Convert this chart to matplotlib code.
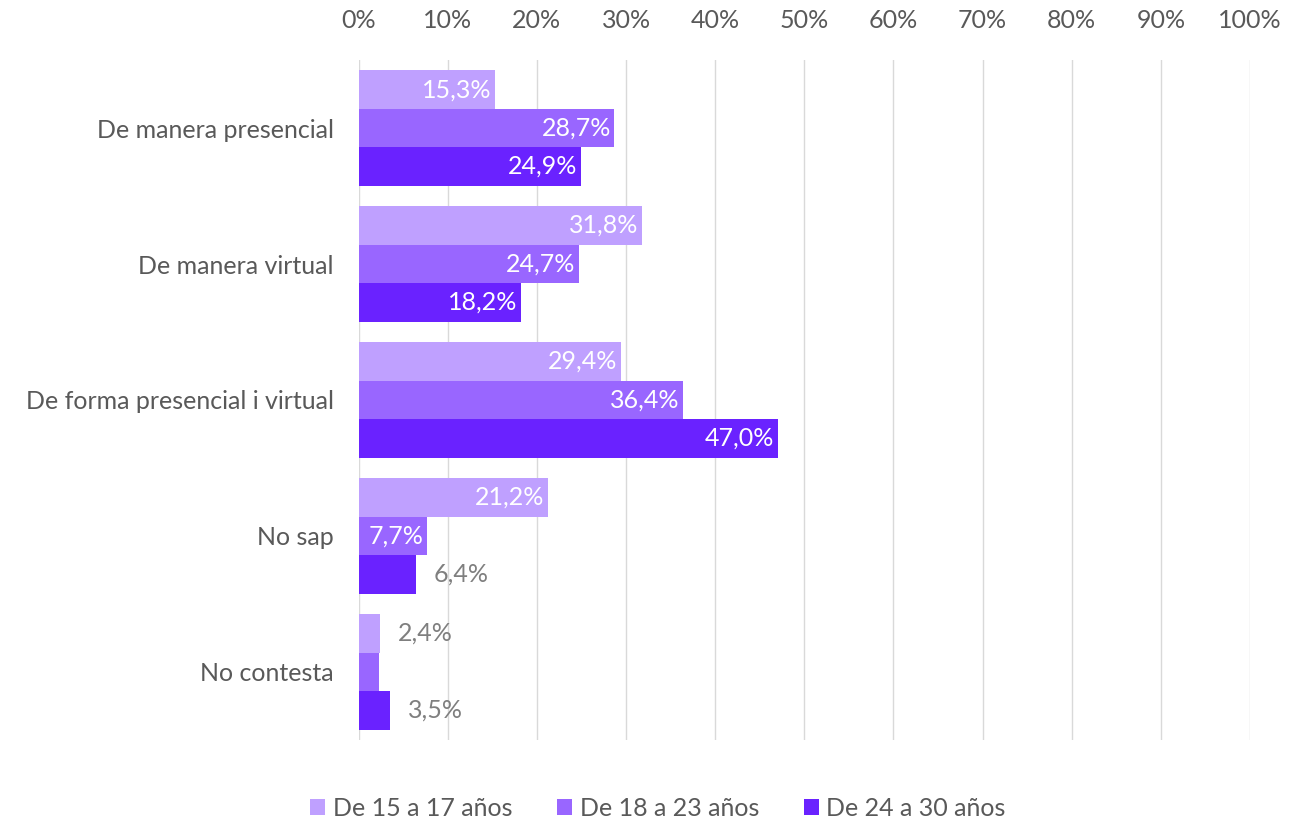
import numpy as np
import matplotlib.pyplot as plt
from matplotlib.ticker import FuncFormatter

plt.rcParams['font.family'] = ['Lato', 'DejaVu Sans']

categories = ['De manera presencial', 'De manera virtual', 'De forma presencial i virtual',
              'No sap', 'No contesta']
series = ['De 15 a 17 años', 'De 18 a 23 años', 'De 24 a 30 años']
v_15_17 = [15.3, 31.8, 29.4, 21.2, 2.4]
v_18_23 = [28.7, 24.7, 36.4, 7.7, 2.3]
v_24_30 = [24.9, 18.2, 47.0, 6.4, 3.5]
colors = ['#BFA0FF', '#9966FF', '#6A22FF']
grey = '#595959'
fs = 18

fig = plt.figure(figsize=(12.9, 8.23), dpi=100)
ax = fig.add_axes([0.278, 0.101, 0.691, 0.826])

y = np.arange(len(categories))
h = 0.283
for i, (name, vals, c) in enumerate(zip(series, [v_15_17, v_18_23, v_24_30], colors)):
    pos = y + (i - 1) * h
    ax.barh(pos, vals, height=h, color=c, label=name, zorder=3)
    for p, v in zip(pos, vals):
        txt = f'{v:.1f}%'.replace('.', ',')
        if v >= 7:
            ax.text(v - 0.4, p, txt, ha='right', va='center', color='white', fontsize=fs, zorder=4)
        elif i == 1:
            # hidden label in the original (white on white)
            ax.text(v + 0.8, p, txt, ha='left', va='center', color='white', fontsize=fs, zorder=4)
        else:
            ax.text(v + 2.0, p, txt, ha='left', va='center', color='#7f7f7f', fontsize=fs, zorder=4)

ax.set_xlim(0, 100)
ax.set_ylim(len(categories) - 0.5, -0.5)
ax.set_xticks(np.arange(0, 101, 10))
ax.xaxis.set_major_formatter(FuncFormatter(lambda x, _: f'{int(x)}%'))
ax.xaxis.tick_top()
ax.tick_params(axis='x', length=0, labelsize=fs, labelcolor=grey, pad=20)
ax.set_yticks(y)
ax.set_yticklabels(categories)
ax.tick_params(axis='y', length=0, labelsize=fs, labelcolor=grey, pad=18)
ax.grid(axis='x', color='#D9D9D9', linewidth=1, zorder=0)
for s in ax.spines.values():
    s.set_visible(False)

fig.legend(loc='center', bbox_to_anchor=(0.51, 0.018), ncol=3, frameon=False,
           fontsize=fs, labelcolor=grey, handlelength=0.6, handleheight=0.6,
           handletextpad=0.3, columnspacing=1.8)

fig.savefig('out.png', dpi=100)
